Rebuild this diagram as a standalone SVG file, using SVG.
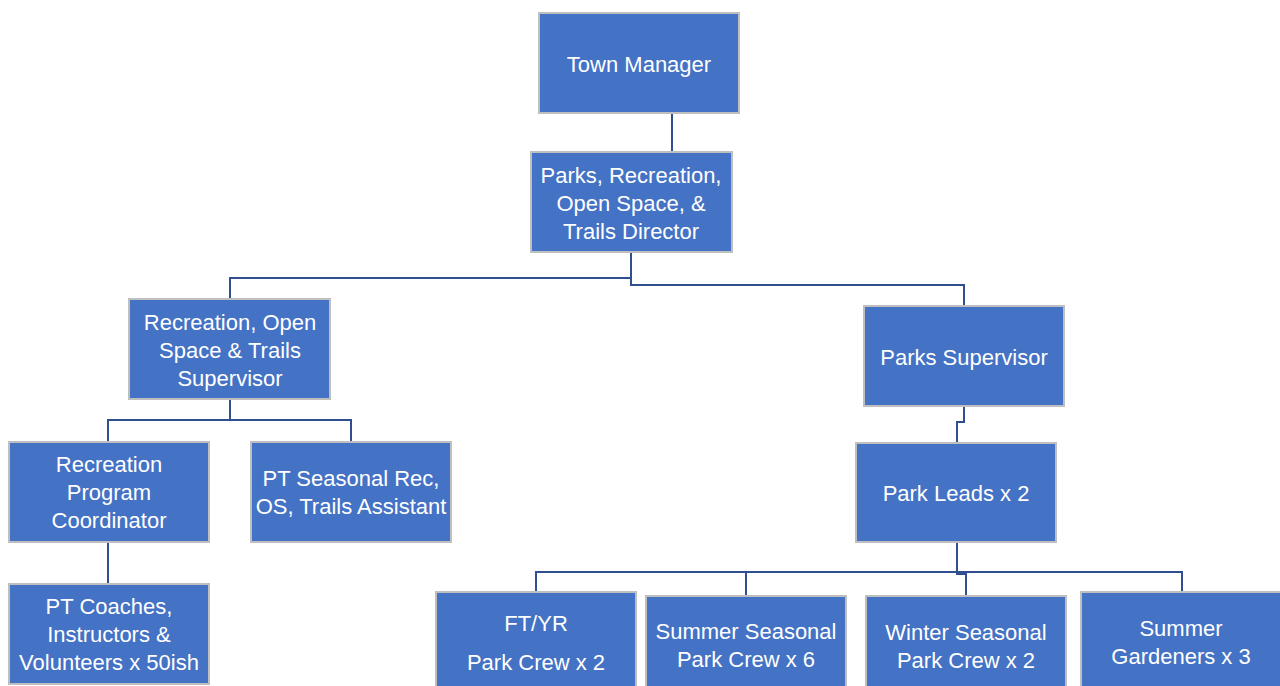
<svg xmlns="http://www.w3.org/2000/svg" width="1280" height="686" viewBox="0 0 1280 686">
<style>
.box{fill:#4472C4;stroke:#BFBFBF;stroke-width:2}
.t{font-family:"Liberation Sans",Arial,sans-serif;font-size:22px;fill:#FFFFFF;text-anchor:middle}
.c{fill:none;stroke:#2F4F8F;stroke-width:2}
</style>
<rect width="1280" height="686" fill="#FFFFFF"/>
<g id="connectors">
<path class="c" d="M672,113 V152"/>
<path class="c" d="M631,252 V278 H230 V299"/>
<path class="c" d="M631,252 V285 H964 V306"/>
<path class="c" d="M230,399 V420 H108 V442"/>
<path class="c" d="M230,420 H351 V442"/>
<path class="c" d="M108,542 V584"/>
<path class="c" d="M964,406 V422 H957 V443"/>
<path class="c" d="M957,542 V572"/>
<path class="c" d="M536,592 V572 H1182 V592"/>
<path class="c" d="M746,572 V596"/>
<path class="c" d="M957,572 V574 H966 V596"/>
</g>
<g id="town-manager">
<rect class="box" x="539" y="13" width="200" height="100"/>
<text class="t" x="639" y="72">Town Manager</text>
</g>
<g id="director">
<rect class="box" x="531" y="152" width="201" height="100"/>
<text class="t" x="631" y="183">Parks, Recreation,</text>
<text class="t" x="631" y="211">Open Space, &amp;</text>
<text class="t" x="631" y="239">Trails Director</text>
</g>
<g id="rec-supervisor">
<rect class="box" x="129" y="299" width="201" height="100"/>
<text class="t" x="230" y="330">Recreation, Open</text>
<text class="t" x="230" y="358">Space &amp; Trails</text>
<text class="t" x="230" y="386">Supervisor</text>
</g>
<g id="parks-supervisor">
<rect class="box" x="864" y="306" width="200" height="100"/>
<text class="t" x="964" y="365">Parks Supervisor</text>
</g>
<g id="rec-coordinator">
<rect class="box" x="9" y="442" width="200" height="100"/>
<text class="t" x="109" y="472">Recreation</text>
<text class="t" x="109" y="500">Program</text>
<text class="t" x="109" y="528">Coordinator</text>
</g>
<g id="pt-seasonal">
<rect class="box" x="251" y="442" width="200" height="100"/>
<text class="t" x="351" y="486">PT Seasonal Rec,</text>
<text class="t" x="351" y="514">OS, Trails Assistant</text>
</g>
<g id="pt-coaches">
<rect class="box" x="9" y="584" width="200" height="100"/>
<text class="t" x="109" y="614">PT Coaches,</text>
<text class="t" x="109" y="642">Instructors &amp;</text>
<text class="t" x="109" y="670">Volunteers x 50ish</text>
</g>
<g id="park-leads">
<rect class="box" x="856" y="443" width="200" height="99"/>
<text class="t" x="956" y="501">Park Leads x 2</text>
</g>
<g id="ft-yr">
<rect class="box" x="436" y="592" width="200" height="100"/>
<text class="t" x="536" y="631">FT/YR</text>
<text class="t" x="536" y="670">Park Crew x 2</text>
</g>
<g id="summer-seasonal">
<rect class="box" x="646" y="596" width="200" height="100"/>
<text class="t" x="746" y="639">Summer Seasonal</text>
<text class="t" x="746" y="667">Park Crew x 6</text>
</g>
<g id="winter-seasonal">
<rect class="box" x="866" y="596" width="200" height="100"/>
<text class="t" x="966" y="640">Winter Seasonal</text>
<text class="t" x="966" y="668">Park Crew x 2</text>
</g>
<g id="summer-gardeners">
<rect class="box" x="1081" y="592" width="200" height="100"/>
<text class="t" x="1181" y="636">Summer</text>
<text class="t" x="1181" y="664">Gardeners x 3</text>
</g>
</svg>
